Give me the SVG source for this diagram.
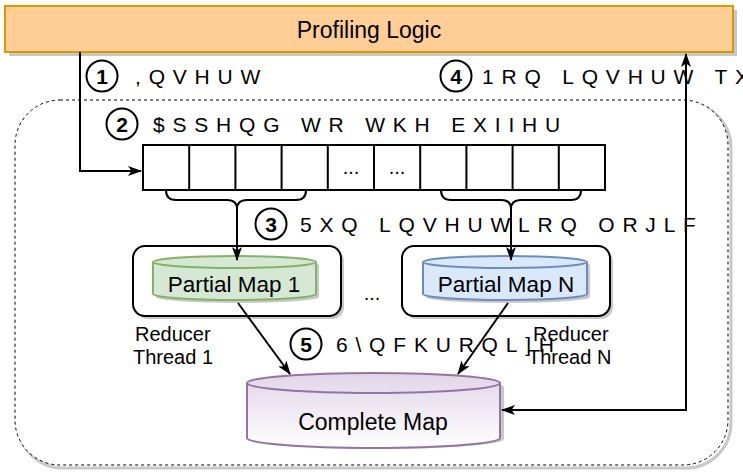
<svg xmlns="http://www.w3.org/2000/svg" width="743" height="473" viewBox="0 0 743 473">
<defs>
<style>
.t{font-family:"Liberation Sans",Arial,sans-serif;fill:#000}
.enc{font-family:"Liberation Sans",Arial,sans-serif;font-size:21px;letter-spacing:7.8px;fill:#000}
.num{font-family:"Liberation Sans",Arial,sans-serif;font-size:21px;font-weight:bold;text-anchor:middle;fill:#000}
.circ{fill:#fff;stroke:#000;stroke-width:2}
.edge{fill:none;stroke:#000;stroke-width:2}
</style>
<marker id="arr" viewBox="0 0 14 10" refX="13" refY="5" markerWidth="14" markerHeight="10" markerUnits="userSpaceOnUse" orient="auto">
<path d="M0,0 L14,5 L0,10 L3.5,5 Z" fill="#000"/>
</marker>
<linearGradient id="gPurple" x1="0" y1="0" x2="0" y2="1"><stop offset="0" stop-color="#e1d5e7"/><stop offset="1" stop-color="#ffffff"/></linearGradient>
</defs>

<g id="container">
<rect x="18" y="103" width="713" height="365" rx="45" fill="none" stroke="#c8c8c8" stroke-width="3"/>
<rect x="15" y="100" width="713" height="365" rx="45" fill="#fff" stroke="#000" stroke-width="1" stroke-dasharray="3,3"/>
</g>

<g id="profiling">
<rect x="9" y="10" width="728" height="46" fill="#c8c8c8"/>
<rect x="5" y="6" width="728" height="46" fill="#ffcd96" stroke="#d79b00" stroke-width="2"/>
<text class="t" x="369" y="38" font-size="23" text-anchor="middle">Profiling Logic</text>
</g>

<g id="buffer">
<rect x="143" y="145" width="462" height="45" fill="#fff" stroke="#000" stroke-width="2"/>
<path d="M189.2,145V190M235.4,145V190M281.6,145V190M327.8,145V190M374,145V190M420.2,145V190M466.4,145V190M512.6,145V190M558.8,145V190" stroke="#000" stroke-width="2"/>
<text class="t" x="351" y="174" font-size="20" text-anchor="middle">...</text>
<text class="t" x="397" y="174" font-size="20" text-anchor="middle">...</text>
</g>

<g id="partial1">
<rect x="136" y="249" width="208" height="70" rx="12" fill="#c8c8c8"/>
<rect x="133" y="246" width="208" height="70" rx="12" fill="#fff" stroke="#000" stroke-width="2"/>
<path d="M156,265 v32 a81.5,6 0 0 0 163,0 v-32 a81.5,6 0 0 0 -163,0 z" fill="#c8c8c8"/>
<path d="M153,262 v32 a81.5,6 0 0 0 163,0 v-32 a81.5,6 0 0 0 -163,0 z" fill="#d5e8d4" stroke="#82b366" stroke-width="2"/>
<path d="M153,262 a81.5,6 0 0 0 163,0" fill="none" stroke="#82b366" stroke-width="2"/>
<text class="t" x="234" y="292" font-size="22.5" text-anchor="middle">Partial Map 1</text>
</g>

<text class="t" x="372" y="300" font-size="20" text-anchor="middle">...</text>

<g id="partialN">
<rect x="405" y="249" width="208" height="70" rx="12" fill="#c8c8c8"/>
<rect x="402" y="246" width="208" height="70" rx="12" fill="#fff" stroke="#000" stroke-width="2"/>
<path d="M426,265 v32 a82,6 0 0 0 164,0 v-32 a82,6 0 0 0 -164,0 z" fill="#c8c8c8"/>
<path d="M423,262 v32 a82,6 0 0 0 164,0 v-32 a82,6 0 0 0 -164,0 z" fill="#dae8fc" stroke="#6c8ebf" stroke-width="2"/>
<path d="M423,262 a82,6 0 0 0 164,0" fill="none" stroke="#6c8ebf" stroke-width="2"/>
<text class="t" x="506" y="292" font-size="22.5" text-anchor="middle">Partial Map N</text>
</g>

<g id="reducer1">
<text class="t" x="135" y="341" font-size="20">Reducer</text>
<text class="t" x="133" y="364" font-size="20">Thread 1</text>
</g>
<g id="reducerN">
<text class="t" x="533" y="341" font-size="20">Reducer</text>
<text class="t" x="528" y="364" font-size="20">Thread N</text>
</g>

<g id="complete">
<path d="M251,387 v52 a126.5,10 0 0 0 253,0 v-52 a126.5,10 0 0 0 -253,0 z" fill="#c8c8c8"/>
<path d="M247,383 v55 a126.5,10 0 0 0 253,0 v-55 a126.5,10 0 0 0 -253,0 z" fill="url(#gPurple)" stroke="#9673a6" stroke-width="2"/>
<path d="M247,383 a126.5,10 0 0 0 253,0" fill="none" stroke="#9673a6" stroke-width="2"/>
<text class="t" x="373" y="430" font-size="23" text-anchor="middle">Complete Map</text>
</g>

<g id="connectors">
<path class="edge" d="M80,52 V171 H141" marker-end="url(#arr)"/>
<path class="edge" d="M166,190 Q166,200 176,200 H227 Q237,200 237,209 Q237,200 247,200 H296 Q306,200 306,190"/>
<path class="edge" d="M237,209 V260" marker-end="url(#arr)"/>
<path class="edge" d="M441,190 Q441,200 451,200 H501 Q511,200 511,209 Q511,200 521,200 H571 Q581,200 581,190"/>
<path class="edge" d="M511,209 V260" marker-end="url(#arr)"/>
<path class="edge" d="M238,303 L290,374" marker-end="url(#arr)"/>
<path class="edge" d="M508,303 L458,374" marker-end="url(#arr)"/>
<path class="edge" d="M686,70 V410 H502" marker-end="url(#arr)"/>
<path class="edge" d="M686,72 V54" marker-end="url(#arr)"/>
</g>

<g id="labels">
<circle class="circ" cx="102" cy="76" r="15.5"/><text class="num" x="102" y="83.5">1</text>
<text class="enc" x="135" y="84">,QVHUW</text>
<circle class="circ" cx="122" cy="124" r="15.5"/><text class="num" x="122" y="131.5">2</text>
<text class="enc" x="153" y="132">$SSHQG WR WKH EXIIHU</text>
<circle class="circ" cx="271" cy="224" r="15.5"/><text class="num" x="271" y="231.5">3</text>
<text class="enc" x="300" y="232">5XQ LQVHUWLRQ ORJLF</text>
<circle class="circ" cx="456" cy="76" r="15.5"/><text class="num" x="456" y="83.5">4</text>
<text class="enc" x="482" y="84">1RQ LQVHUW TX</text>
<circle class="circ" cx="306" cy="344" r="15.5"/><text class="num" x="306" y="351.5">5</text>
<text class="enc" x="336" y="352">6\QFKURQL]H</text>
</g>
</svg>
